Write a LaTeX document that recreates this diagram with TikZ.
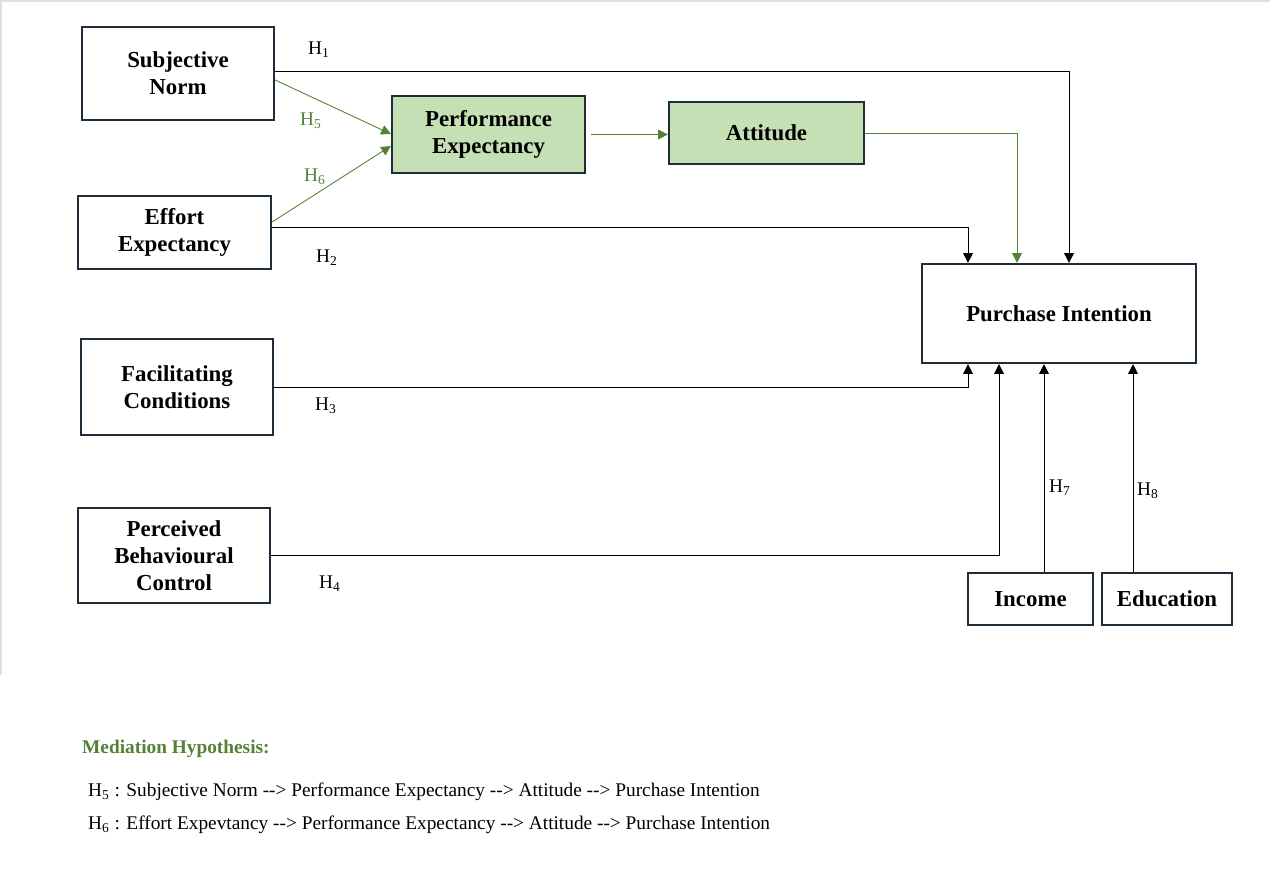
\documentclass[tikz,border=0pt]{standalone}
\usepackage{fontspec}
\setmainfont{Liberation Serif}
\usetikzlibrary{arrows.meta}
\definecolor{boxline}{HTML}{1F2D3A}
\definecolor{medfill}{HTML}{C5E0B4}
\definecolor{medline}{HTML}{548235}
\newcommand{\hyparrow}{-{}->}
\tikzset{
  construct/.style={draw=boxline, line width=1.3pt, align=center, inner sep=0pt,
    font=\bfseries\fontsize{13}{15.5}\selectfont},
  mediator/.style={construct, fill=medfill},
  path/.style={-{Triangle[length=5.5pt,width=5.5pt]}, line width=0.5pt},
  medpath/.style={path, draw=medline},
  hlabel/.style={font=\fontsize{11}{13}\selectfont},
}
\begin{document}
\begin{tikzpicture}[x=0.02cm,y=-0.02cm]
  \useasboundingbox (0,0) rectangle (1270,889);
  \draw[gray!25, line width=1pt] (1,675) -- (1,1) -- (1270,1);
  % constructs
  \node[construct, minimum width=3.84cm, minimum height=1.86cm] (SN) at (178,73.5) {Subjective\\Norm};
  \node[construct, minimum width=3.86cm, minimum height=1.46cm] (EE) at (174.5,232.5) {Effort\\Expectancy};
  \node[construct, minimum width=3.84cm, minimum height=1.92cm] (FC) at (177,387) {Facilitating\\Conditions};
  \node[construct, minimum width=3.84cm, minimum height=1.90cm] (PBC) at (174,555.5) {Perceived\\Behavioural\\Control};
  \node[mediator, minimum width=3.86cm, minimum height=1.54cm] (PE) at (488.5,134.5) {Performance\\Expectancy};
  \node[mediator, minimum width=3.90cm, minimum height=1.24cm] (ATT) at (766.5,133) {Attitude};
  \node[construct, minimum width=5.48cm, minimum height=1.98cm] (PI) at (1059,313.5) {Purchase Intention};
  \node[construct, minimum width=2.50cm, minimum height=1.04cm] (INC) at (1030.5,599) {Income};
  \node[construct, minimum width=2.60cm, minimum height=1.04cm] (EDU) at (1167,599) {Education};
  % direct paths
  \draw[path] ([yshift=0.05cm]SN.east) -| ([xshift=0.2cm]PI.north);
  \draw[path] ([yshift=0.11cm]EE.east) -| ([xshift=-1.82cm]PI.north);
  \draw[path] (FC.east) -| ([xshift=-1.82cm]PI.south);
  \draw[path] (PBC.east) -| ([xshift=-1.2cm]PI.south);
  \draw[path] ([xshift=0.27cm]INC.north) -- ([xshift=0.27cm]INC.north |- PI.south);
  \draw[path] ([xshift=-0.68cm]EDU.north) -- ([xshift=-0.68cm]EDU.north |- PI.south);
  % mediation paths
  \draw[medpath] ([yshift=-0.13cm]SN.east) -- ([yshift=0.01cm]PE.west);
  \draw[medpath] ([yshift=0.21cm]EE.east) -- ([yshift=-0.23cm]PE.west);
  \draw[medpath, shorten <=0.1cm] (PE.east) -- (PE.east -| ATT.west);
  \draw[medpath] (ATT.east) -| ([xshift=-0.84cm]PI.north);
  % labels
  \node[hlabel] (h1) at (319,50) {H\textsubscript{1}};
  \node[hlabel] (h2) at (327,258) {H\textsubscript{2}};
  \node[hlabel] (h3) at (326,406) {H\textsubscript{3}};
  \node[hlabel] (h4) at (330,584) {H\textsubscript{4}};
  \node[hlabel, text=medline] (h5) at (311,121) {H\textsubscript{5}};
  \node[hlabel, text=medline] (h6) at (315,177) {H\textsubscript{6}};
  \node[hlabel] (h7) at (1060,488) {H\textsubscript{7}};
  \node[hlabel] (h8) at (1148,491) {H\textsubscript{8}};
  % legend
  \node[anchor=west, text=medline, font=\bfseries\fontsize{11}{13}\selectfont] (medtitle) at (76,749) {Mediation Hypothesis:};
  \node[anchor=west, hlabel] (med5) at (82,792) {H\textsubscript{5} : Subjective Norm \hyparrow\ Performance Expectancy \hyparrow\ Attitude \hyparrow\ Purchase Intention};
  \node[anchor=west, hlabel] (med6) at (82,825) {H\textsubscript{6} : Effort Expevtancy \hyparrow\ Performance Expectancy \hyparrow\ Attitude \hyparrow\ Purchase Intention};
\end{tikzpicture}
\end{document}
